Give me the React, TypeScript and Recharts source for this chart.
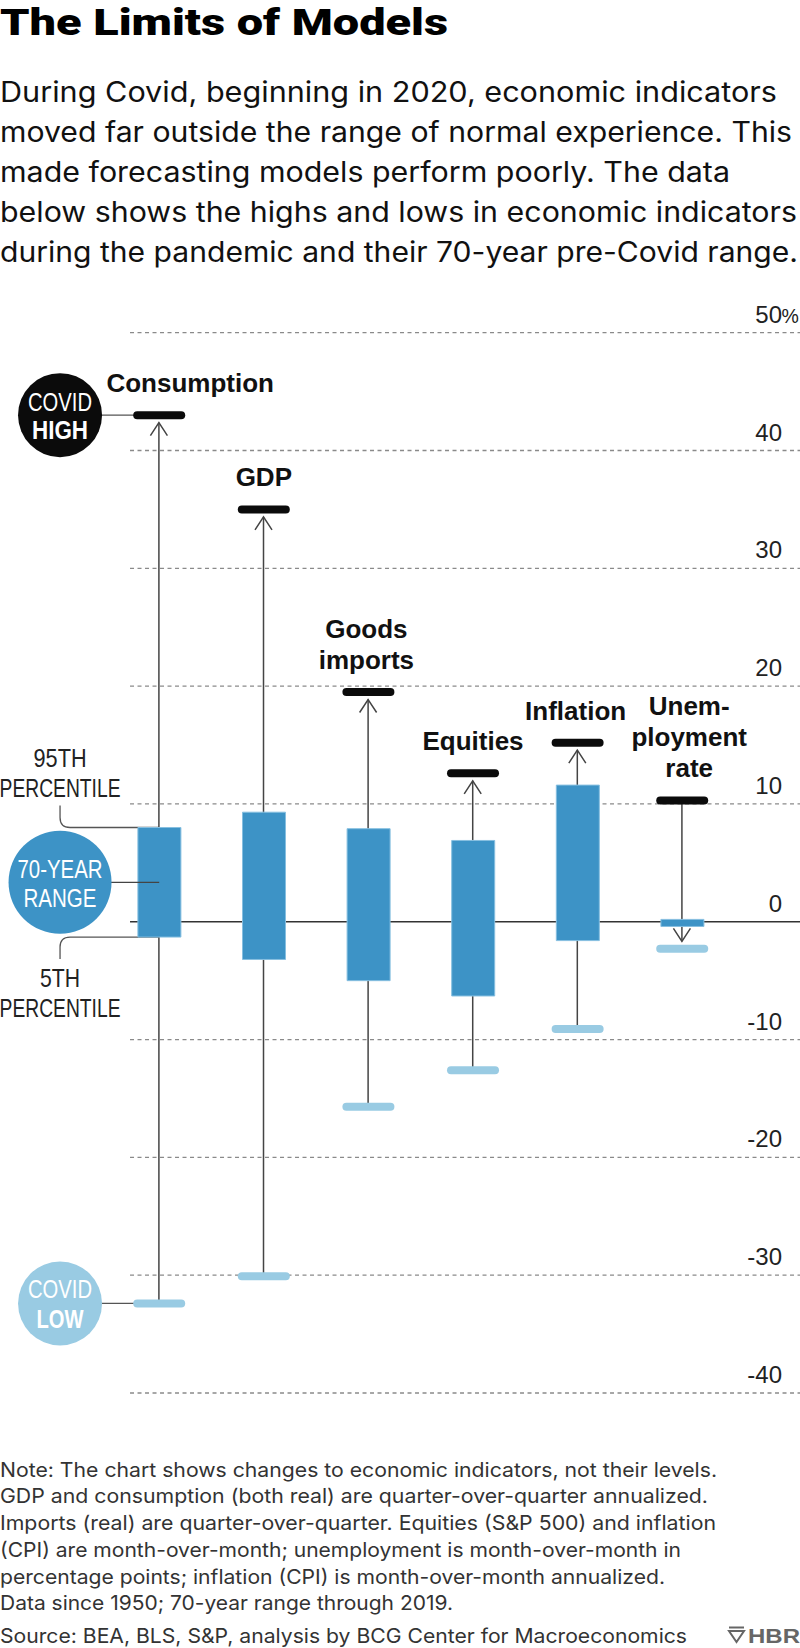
import React from 'react';
import { ComposedChart, Bar, Scatter, XAxis, YAxis, ReferenceLine, ReferenceDot } from 'recharts';

document.body.style.margin = '0';

// data (percent change; unemployment in points)
const indicators = ['Consumption', 'GDP', 'Goods imports', 'Equities', 'Inflation', 'Unemployment rate'];
const labelLines = [['Consumption'], ['GDP'], ['Goods', 'imports'], ['Equities'], ['Inflation'], ['Unem-', 'ployment', 'rate']];
const covidHigh = [43.0, 35.0, 19.5, 12.6, 15.2, 10.3];
const covidLow = [-32.4, -30.1, -15.7, -12.6, -9.1, -2.3];
const pct95 = [8.0, 9.3, 7.9, 6.9, 11.6, 0.2];
const pct5 = [-1.3, -3.2, -5.0, -6.3, -1.6, -0.4];
const arrowTo = ['high', 'high', 'high', 'high', 'high', 'low'];
const yTicks = [-40, -30, -20, -10, 0, 10, 20, 30, 40, 50];

const subtitle = [
  'During Covid, beginning in 2020, economic indicators',
  'moved far outside the range of normal experience. This',
  'made forecasting models perform poorly. The data',
  'below shows the highs and lows in economic indicators',
  'during the pandemic and their 70-year pre-Covid range.',
];
const notes = [
  'Note: The chart shows changes to economic indicators, not their levels.',
  'GDP and consumption (both real) are quarter-over-quarter annualized.',
  'Imports (real) are quarter-over-quarter. Equities (S&P 500) and inflation',
  '(CPI) are month-over-month; unemployment is month-over-month in',
  'percentage points; inflation (CPI) is month-over-month annualized.',
  'Data since 1950; 70-year range through 2019.',
];
const source = 'Source: BEA, BLS, S&P, analysis by BCG Center for Macroeconomics';

const rows = indicators.map((name, i) => ({
  idx: i,
  name,
  lines: labelLines[i],
  high: covidHigh[i],
  low: covidLow[i],
  range: [pct5[i], pct95[i]],
  span: [covidLow[i], covidHigh[i]],
  arrow: arrowTo[i],
}));

// layout
const SANS = "'Liberation Sans', Arial, sans-serif";
const BODY = "Inter, 'Liberation Sans', sans-serif";
const HEAVY = "Roboto, 'Liberation Sans', sans-serif";
const BLUE = '#3d93c6';
const LIGHT = '#99cbe3';
const CHART_TOP = 280;
const CHART_H = 1140;
const X_DOMAIN = [-1.522, 6.126];
const GRID_X0 = -0.279;
const ANN_X = -0.948;
const LABEL_DX = [31, 0, -2, 0, -2, 7];
const subWidth = [777, 792, 730, 797, 798];
const noteWidth = [717, 708, 716, 681, 665, 453];

const HighCap = (p: any) => {
  const { cx, cy, payload } = p;
  const lines: string[] = payload.lines;
  const dx = LABEL_DX[payload.idx] ?? 0;
  return (
    <g>
      <rect x={cx - 26} y={cy - 4} width={52} height={8} rx={4} fill="#0b0b0b" />
      {lines.map((t, k) => (
        <text
          key={k}
          x={cx + dx}
          y={cy - 23 - (lines.length - 1 - k) * 31}
          textAnchor="middle"
          fontFamily={SANS}
          fontWeight={700}
          fontSize={26}
          fill="#111"
        >
          {t}
        </text>
      ))}
    </g>
  );
};

const LowCap = (p: any) => (
  <rect x={p.cx - 26} y={p.cy - 4} width={52} height={8} rx={4} fill={LIGHT} />
);

const Whisker = (p: any) => {
  const { x, y, width, height, payload } = p;
  const cx = x + width / 2;
  const top = Math.min(y, y + height);
  const bot = Math.max(y, y + height);
  const up = payload.arrow === 'high';
  const tip = up ? top + 7.5 : bot - 7.5;
  const s = up ? 1 : -1;
  return (
    <g stroke="#444" strokeWidth={1.5} fill="none">
      <line x1={cx} x2={cx} y1={up ? bot : top} y2={tip} />
      <polyline points={`${cx - 8.5},${tip + 13 * s} ${cx},${tip} ${cx + 8.5},${tip + 13 * s}`} />
    </g>
  );
};

const Badge = (p: any) => {
  const { cx, cy, r, fill, top, bottom, topW, bottomW, dyTop, dyBottom } = p;
  return (
    <g>
      <circle cx={cx} cy={cy} r={r} fill={fill} />
      <text x={cx} y={cy + dyTop} textAnchor="middle" fill="#fff" fontSize={25} fontFamily={SANS}
        textLength={topW} lengthAdjust="spacingAndGlyphs">{top}</text>
      <text x={cx} y={cy + dyBottom} textAnchor="middle" fill="#fff" fontSize={25} fontFamily={SANS}
        fontWeight={p.boldBottom ? 700 : 400} textLength={bottomW} lengthAdjust="spacingAndGlyphs">{bottom}</text>
    </g>
  );
};

const PctNote = (p: any) => {
  const { cx, cy, above, first, firstW } = p;
  const s = above ? -1 : 1;
  const d = `M${cx},${cy + s * 22} V${cy + s * 10} Q${cx},${cy} ${cx + 10},${cy} H${cx + 99}`;
  const b1 = above ? cy - 60.3 : cy + 50;
  const b2 = above ? cy - 30.6 : cy + 79.7;
  return (
    <g>
      <path d={d} stroke="#555" strokeWidth={1.3} fill="none" />
      <text x={cx} y={b1} textAnchor="middle" fontSize={25} fontFamily={SANS} fill="#222"
        textLength={firstW} lengthAdjust="spacingAndGlyphs">{first}</text>
      <text x={cx} y={b2} textAnchor="middle" fontSize={25} fontFamily={SANS} fill="#222"
        textLength={121} lengthAdjust="spacingAndGlyphs">PERCENTILE</text>
    </g>
  );
};

const GridLabel = ({ viewBox, v }: any) => {
  const y = viewBox ? viewBox.y : 0;
  return (
    <g>
      <text x={782} y={y - 10} textAnchor="end" fontSize={24} fontFamily={SANS} fill="#222">{v}</text>
      {v === 50 && (
        <text x={781.5} y={y - 10} fontSize={19.5} fontFamily={SANS} fill="#222">%</text>
      )}
    </g>
  );
};

export default function App() {
  const mid0 = (pct5[0] + pct95[0]) / 2;
  return (
    <div style={{ position: 'relative', width: 800, height: 1648, background: '#fff', overflow: 'hidden' }}>
      <svg width={800} height={280} style={{ position: 'absolute', left: 0, top: 0 }}>
        <text x={0} y={34.5} fontFamily={HEAVY} fontWeight={900} fontSize={37} fill="#000"
          textLength={448} lengthAdjust="spacingAndGlyphs">The Limits of Models</text>
        {subtitle.map((t, i) => (
          <text key={i} x={0} y={101.7 + i * 40} fontFamily={BODY} fontSize={28} fill="#111"
            textLength={subWidth[i]} lengthAdjust="spacingAndGlyphs">{t}</text>
        ))}
      </svg>

      <div style={{ position: 'absolute', left: 0, top: CHART_TOP }}>
        <ComposedChart width={800} height={CHART_H} data={rows} margin={{ top: 52.7, right: 0, bottom: 27, left: 0 }}>
          <XAxis xAxisId="a" type="number" dataKey="idx" domain={X_DOMAIN} ticks={[0, 1, 2, 3, 4, 5]} allowDataOverflow hide />
          <XAxis xAxisId="b" type="number" dataKey="idx" domain={X_DOMAIN} ticks={[0, 1, 2, 3, 4, 5]} allowDataOverflow hide />
          <YAxis domain={[-40, 50]} ticks={yTicks} allowDataOverflow hide />

          {yTicks.map((v) => (
            <ReferenceLine key={v} xAxisId="a" ifOverflow="visible" zIndex={v === 0 ? 11 : 10}
              segment={[{ x: GRID_X0, y: v }, { x: X_DOMAIN[1], y: v }]}
              stroke={v === 0 ? '#333' : '#8a8a8a'} strokeWidth={v === 0 ? 1.5 : 1.3}
              strokeDasharray={v === 0 ? undefined : '4 3.5'}
              label={(lp: any) => <GridLabel viewBox={lp.viewBox} v={v} />} />
          ))}

          <ReferenceLine xAxisId="a" ifOverflow="visible" zIndex={20}
            segment={[{ x: ANN_X, y: covidHigh[0] }, { x: 0, y: covidHigh[0] }]} stroke="#555" strokeWidth={1.3} />
          <ReferenceLine xAxisId="a" ifOverflow="visible" zIndex={20}
            segment={[{ x: ANN_X, y: covidLow[0] }, { x: 0, y: covidLow[0] }]} stroke="#555" strokeWidth={1.3} />
          <ReferenceDot xAxisId="a" x={ANN_X} y={pct95[0]} r={1} zIndex={20}
            shape={(p: any) => <PctNote cx={p.cx} cy={p.cy} above first="95TH" firstW={53} />} />
          <ReferenceDot xAxisId="a" x={ANN_X} y={pct5[0]} r={1} zIndex={20}
            shape={(p: any) => <PctNote cx={p.cx} cy={p.cy} above={false} first="5TH" firstW={40} />} />

          <Bar xAxisId="b" dataKey="span" barSize={20} shape={Whisker} isAnimationActive={false} zIndex={30} />
          <Bar xAxisId="a" dataKey="range" barSize={43} fill={BLUE} stroke="#86bfe0" strokeWidth={1}
            isAnimationActive={false} zIndex={40} />

          <ReferenceLine xAxisId="a" ifOverflow="visible" zIndex={50}
            segment={[{ x: ANN_X, y: mid0 }, { x: 0, y: mid0 }]} stroke="#444" strokeWidth={1.3} />

          <Scatter xAxisId="a" data={rows} dataKey="low" shape={LowCap} isAnimationActive={false} zIndex={60} />
          <Scatter xAxisId="a" data={rows} dataKey="high" shape={HighCap} isAnimationActive={false} zIndex={60} />

          <ReferenceDot xAxisId="a" x={ANN_X} y={covidHigh[0]} r={42} zIndex={70}
            shape={(p: any) => <Badge cx={p.cx} cy={p.cy} r={42} fill="#0b0b0b" top="COVID" bottom="HIGH"
              topW={64} bottomW={56} dyTop={-4} dyBottom={24} boldBottom />} />
          <ReferenceDot xAxisId="a" x={ANN_X} y={mid0} r={51} zIndex={70}
            shape={(p: any) => <Badge cx={p.cx} cy={p.cy} r={51.5} fill={BLUE} top="70-YEAR" bottom="RANGE"
              topW={85} bottomW={73} dyTop={-4} dyBottom={24.7} />} />
          <ReferenceDot xAxisId="a" x={ANN_X} y={covidLow[0]} r={42} zIndex={70}
            shape={(p: any) => <Badge cx={p.cx} cy={p.cy} r={42} fill={LIGHT} top="COVID" bottom="LOW"
              topW={64} bottomW={47} dyTop={-5} dyBottom={24.7} boldBottom />} />
        </ComposedChart>
      </div>

      <svg width={800} height={228} style={{ position: 'absolute', left: 0, top: 1420 }}>
        {notes.map((t, i) => (
          <text key={i} x={0} y={56.7 + i * 26.7} fontFamily={BODY} fontSize={20} fill="#333"
            textLength={noteWidth[i]} lengthAdjust="spacingAndGlyphs">{t}</text>
        ))}
        <text x={0} y={222.5} fontFamily={BODY} fontSize={20} fill="#333"
          textLength={687} lengthAdjust="spacingAndGlyphs">{source}</text>
        <g stroke="#666" strokeWidth={2} fill="none">
          <line x1={729} x2={744} y1={207.5} y2={207.5} />
          <path d="M729,211 L744,211 L736.5,222 Z" />
        </g>
        <text x={800} y={222.5} textAnchor="end" fontFamily={SANS} fontWeight={700} fontSize={21} fill="#666"
          textLength={52} lengthAdjust="spacingAndGlyphs">HBR</text>
      </svg>
    </div>
  );
}
